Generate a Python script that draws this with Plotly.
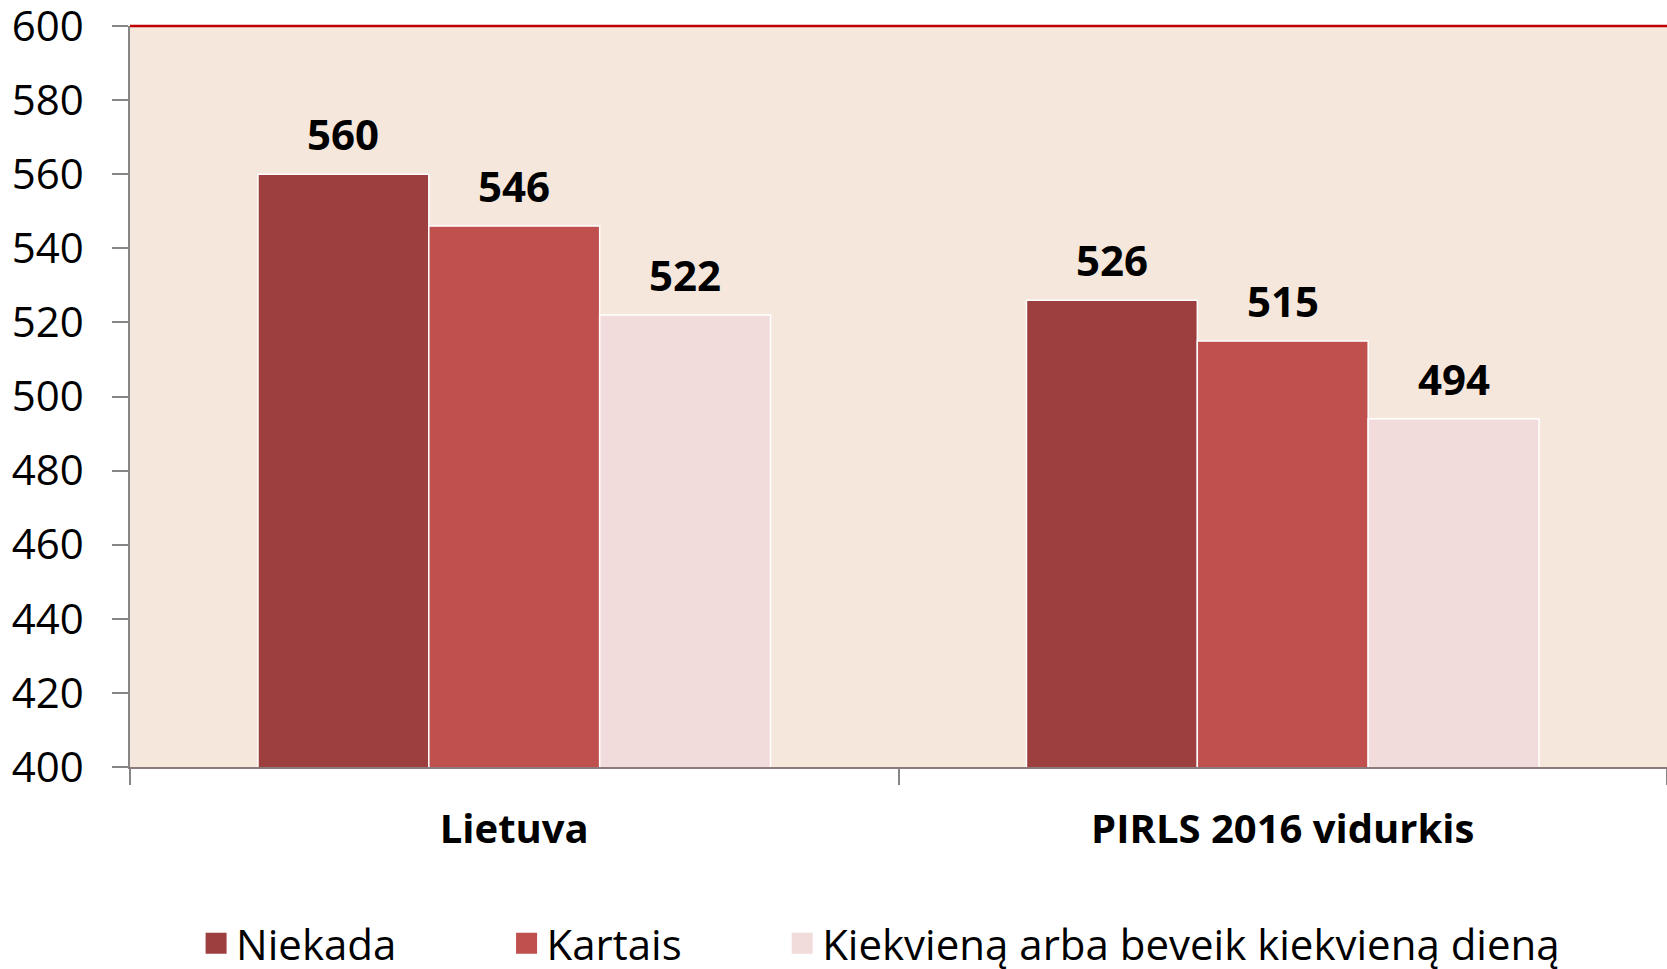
import plotly.graph_objects as go

categories = ["Lietuva", "PIRLS 2016 vidurkis"]
series_names = ["Niekada", "Kartais", "Kiekvieną arba beveik kiekvieną dieną"]
values_niekada = [560, 526]
values_kartais = [546, 515]
values_kiekviena = [522, 494]
series_values = [values_niekada, values_kartais, values_kiekviena]
colors = ["#9E3F3F", "#C0504D", "#F2DCDB"]
y_ticks = [400, 420, 440, 460, 480, 500, 520, 540, 560, 580, 600]

FONT = "Open Sans"
BARGAP = 0.333
legend_x = [0.0430, 0.2450, 0.4243]

fig = go.Figure()
annotations = []
n = len(series_names)
bar_w = (1 - BARGAP) / n
for j, (name, vals, col) in enumerate(zip(series_names, series_values, colors)):
    fig.add_trace(go.Bar(
        x=categories, y=vals, name=name, showlegend=False,
        marker=dict(color=col, line=dict(color="white", width=1.5)),
    ))
    # legend entry (square swatch)
    fig.add_trace(go.Scatter(
        x=[None], y=[None], mode="markers", name=name, showlegend=True,
        marker=dict(symbol="square", size=16, color=col, line=dict(color=col, width=5)),
        legend="legend" if j == 0 else f"legend{j+1}",
        hoverinfo="skip",
    ))
    for i, v in enumerate(vals):
        annotations.append(dict(
            x=i + (j - (n - 1) / 2) * bar_w, y=v, xref="x", yref="y",
            text=str(v), showarrow=False, yanchor="bottom", yshift=10,
            font=dict(family=FONT, size=42, color="black", weight="bold"),
        ))

legend_common = dict(
    orientation="h", y=-0.238, yanchor="middle", xanchor="left",
    font=dict(family=FONT, size=42, color="black"), bgcolor="rgba(0,0,0,0)",
)
fig.update_layout(
    width=1667, height=969,
    margin=dict(l=130, r=0, t=26, b=202, autoexpand=False),
    paper_bgcolor="white", plot_bgcolor="#F5E7DB",
    barmode="group", bargap=BARGAP, bargroupgap=0,
    showlegend=True,
    legend=dict(x=legend_x[0], **legend_common),
    legend2=dict(x=legend_x[1], **legend_common),
    legend3=dict(x=legend_x[2], **legend_common),
    annotations=annotations,
    shapes=[dict(type="line", xref="paper", yref="paper", x0=0, x1=1, y0=1, y1=1,
                 line=dict(color="#C00000", width=2.5))],
)
fig.update_yaxes(
    range=[400, 600], tickvals=y_ticks, showgrid=False, zeroline=False,
    showline=True, linecolor="#868686", linewidth=1.5, automargin=False,
    ticks="outside", ticklen=16, tickcolor="#868686", tickwidth=1.5,
    ticklabelstandoff=20, ticklabeloverflow="allow",
    tickfont=dict(family=FONT, size=42, color="black"),
)
fig.update_xaxes(
    type="category", range=[-0.5, 1.5], tickson="boundaries",
    showgrid=False, zeroline=False, automargin=False,
    showline=True, linecolor="#8C7B7B", linewidth=2,
    ticks="outside", ticklen=16, tickcolor="#868686", tickwidth=1.5,
    ticklabelstandoff=26, ticklabeloverflow="allow",
    tickfont=dict(family=FONT, size=40, color="black", weight="bold"),
)
fig.write_html(
    "out.html",
    config={"displayModeBar": False},
    post_script="document.body.style.margin='0';document.body.style.overflow='hidden';",
)
